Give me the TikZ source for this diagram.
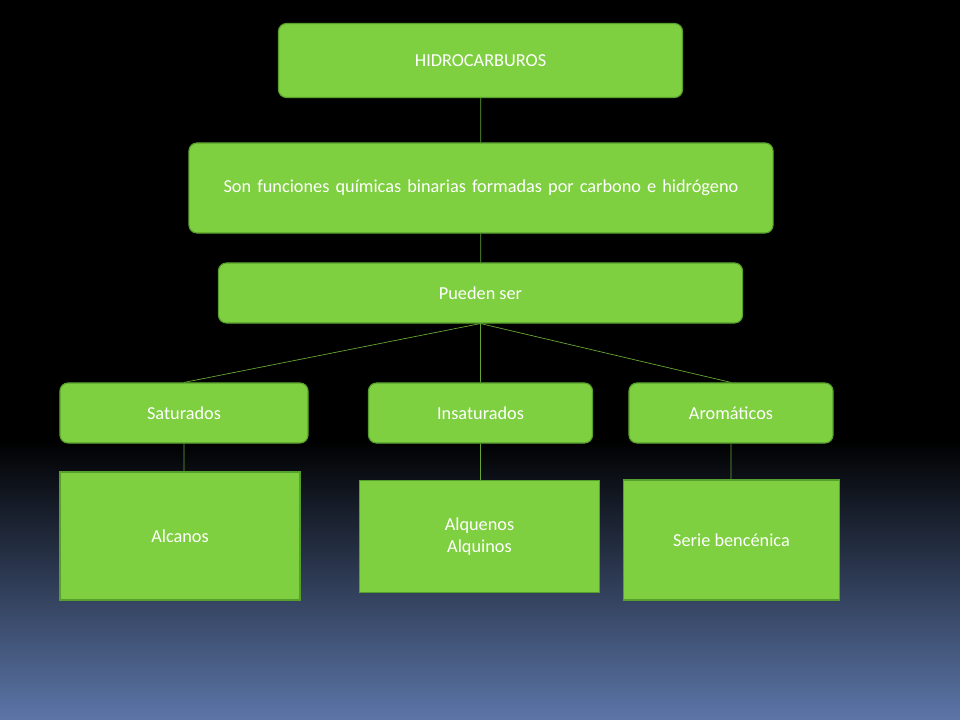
\documentclass[tikz,border=0pt]{standalone}
\usepackage{fontspec}
\setmainfont{Carlito}
\definecolor{boxgreen}{RGB}{126,208,64}
\definecolor{boxedge}{RGB}{88,160,46}
\definecolor{slideblue}{RGB}{92,118,168}
\begin{document}
\begin{tikzpicture}[x=0.025cm,y=-0.025cm,
    box/.style={draw=boxedge,fill=boxgreen,rounded corners=2mm,line width=0.8pt,
      text=white,align=center,font=\fontsize{13}{16}\selectfont,inner sep=0pt},
    sqbox/.style={box,rounded corners=0pt},
    link/.style={draw=boxgreen!80!black,line width=0.5pt},
   ]
   \fill[black] (0,0) rectangle (960,720);
   \shade[top color=black,bottom color=slideblue] (0,440) rectangle (960,720);
   \useasboundingbox (0,0) rectangle (960,720);
   % boxes
   \node[box,minimum width=10.1cm,minimum height=1.85cm] (hc) at (480.5,60.5) {HIDROCARBUROS};
   \node[box,minimum width=14.6cm,minimum height=2.25cm,text width=14cm] (fq) at (481,188)
     {Son funciones químicas binarias formadas por carbono e hidrógeno};
   \node[box,minimum width=13.1cm,minimum height=1.5cm] (ps) at (480.5,293) {Pueden ser};
   \node[box,minimum width=6.2cm,minimum height=1.5cm] (sat) at (184,413) {Saturados};
   \node[box,minimum width=5.6cm,minimum height=1.5cm] (ins) at (480.5,413) {Insaturados};
   \node[box,minimum width=5.1cm,minimum height=1.5cm] (aro) at (731,413) {Aromáticos};
   \node[sqbox,minimum width=6cm,minimum height=3.2cm] (alc) at (180,536) {Alcanos};
   \node[sqbox,minimum width=6cm,minimum height=2.8cm] (alq) at (479.5,536.5) {Alquenos\\Alquinos};
   \node[sqbox,minimum width=5.4cm,minimum height=3cm] (ben) at (731.5,540) {Serie bencénica};
   % connectors
   \path[link] (hc) -- (fq) (fq) -- (ps)
     (ps.south) -- (sat.north) (ps.south) -- (ins.north) (ps.south) -- (aro.north)
     (sat.south) -- (sat.south|-alc.north) (ins.south) -- (ins.south|-alq.north)
     (aro.south) -- (aro.south|-ben.north);
\end{tikzpicture}
\end{document}
